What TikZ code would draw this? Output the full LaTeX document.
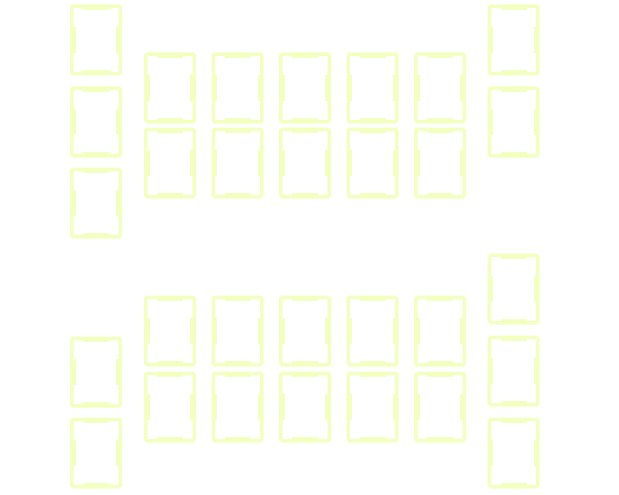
\documentclass[tikz,border=0pt]{standalone}
\usetikzlibrary{positioning}
\definecolor{seatyellow}{RGB}{242,255,190}
\tikzset{
  seat/.style   ={draw=seatyellow,line width=3.5pt,rounded corners=1.5pt,inner sep=0pt,
                  minimum width=48.5pt,minimum height=67.5pt,
                  path picture={
                    \draw[seatyellow,line width=8pt]
                      ([yshift=-13pt]path picture bounding box.west) -- ([yshift=13pt]path picture bounding box.west)
                      ([yshift=-13pt]path picture bounding box.east) -- ([yshift=13pt]path picture bounding box.east)
                      ([xshift=-13pt]path picture bounding box.north) -- ([xshift=13pt]path picture bounding box.north)
                      ([xshift=-13pt]path picture bounding box.south) -- ([xshift=13pt]path picture bounding box.south);
                  }},
}
\begin{document}
\begin{tikzpicture}[x=1pt,y=-1pt]
\useasboundingbox (0,0) rectangle (619,495);
% side rows, left and right
\foreach \y [count=\i] in {40,122,203,372,453}
  \node[seat] (left\i) at (96,\y) {};
\foreach \y [count=\i] in {40,122,289,371,453}
  \node[seat] (right\i) at (513.5,\y) {};
% middle blocks
\foreach \x [count=\j] in {170,237.5,305,372.5,440}{
  \foreach \y [count=\i] in {88,163,331,407}
    \node[seat] (seat\i\j) at (\x,\y) {};
}
\end{tikzpicture}
\end{document}
